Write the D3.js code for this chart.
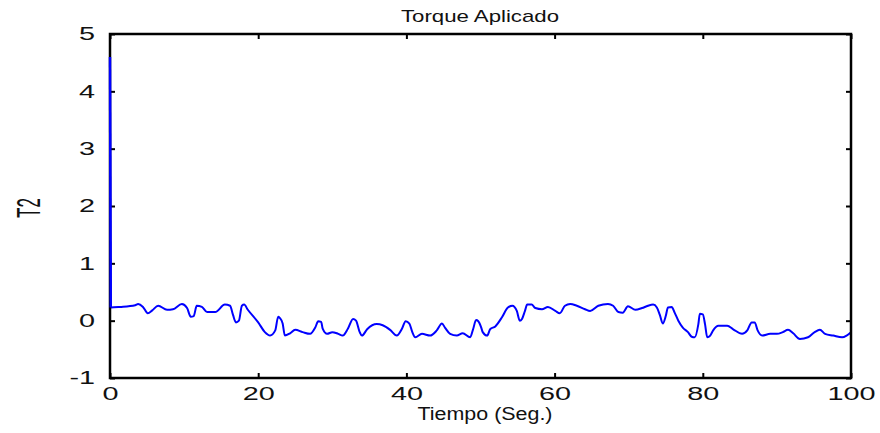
<!DOCTYPE html>
<html>
<head>
<meta charset="utf-8">
<script src="https://cdn.jsdelivr.net/npm/d3@7"></script>
<style>
  html, body { margin: 0; padding: 0; background: #fff; }
  svg { display: block; }
  text { font-family: "Liberation Sans", Arial, sans-serif; fill: #111; }
</style>
</head>
<body>
<svg id="chart" width="880" height="433"></svg>
<script>
// Applied torque T2 over time (seconds)
const time = [0, 0.1, 1.35, 3.4, 3.8, 4.45, 5.1, 5.7, 6.5, 7.7, 8.5, 9.7, 10.4, 10.9, 11.3, 11.7, 12.4, 13.1, 14.2, 15.5,
  16.2, 16.6, 17.0, 17.4, 17.8, 18.1, 18.6, 20.0, 20.9, 21.6, 22.3, 22.7, 22.9, 23.3, 23.6, 24.3, 25.0, 26.0, 27.0, 27.7,
  28.1, 28.5, 28.7, 29.3, 30.0, 30.8, 31.4, 32.1, 32.8, 33.2, 33.7, 34.0, 34.7, 36.0, 36.8, 37.8, 38.7, 39.4, 39.9, 40.4,
  40.8, 41.2, 42.1, 43.2, 44.1, 44.8, 45.2, 45.9, 46.8, 47.6, 48.6, 49.0, 49.4, 49.7, 50.1, 50.3, 50.9, 51.3, 52.0, 52.9,
  53.7, 54.3, 54.9, 55.3, 55.6, 56.0, 56.3, 56.9, 57.4, 58.3, 59.1, 60.1, 60.7, 61.4, 62.1, 63.0, 64.1, 64.8, 65.9, 67.2,
  67.9, 68.6, 69.2, 69.9, 70.9, 71.8, 72.6, 73.3, 73.8, 74.2, 74.6, 75.0, 75.3, 75.8, 76.2, 76.7, 77.3, 78.0, 78.5, 78.9,
  79.4, 79.6, 80.0, 80.3, 80.6, 81.0, 81.4, 82.1, 83.3, 84.1, 85.3, 86.0, 86.6, 87.0, 87.4, 88.0, 89.1, 90.0, 90.8, 91.5,
  92.2, 93.1, 94.2, 95.1, 95.8, 96.5, 97.6, 98.8, 99.4, 100];
const torque = [4.6, 0.23, 0.24, 0.27, 0.29, 0.24, 0.13, 0.18, 0.26, 0.19, 0.2, 0.29, 0.22, 0.07, 0.08, 0.26, 0.24, 0.15, 0.15, 0.28,
  0.26, 0.1, -0.03, 0.0, 0.26, 0.28, 0.19, -0.03, -0.2, -0.26, -0.17, 0.07, 0.05, -0.05, -0.26, -0.22, -0.16, -0.2, -0.23, -0.12,
  -0.01, -0.02, -0.14, -0.23, -0.2, -0.23, -0.26, -0.14, 0.03, 0.0, -0.2, -0.26, -0.15, -0.06, -0.08, -0.16, -0.26, -0.14, -0.01, -0.05,
  -0.2, -0.29, -0.23, -0.26, -0.17, -0.05, -0.12, -0.23, -0.26, -0.22, -0.29, -0.15, 0.01, -0.01, -0.12, -0.2, -0.26, -0.15, -0.1, 0.06,
  0.23, 0.26, 0.17, 0.0, 0.03, 0.17, 0.28, 0.28, 0.22, 0.2, 0.24, 0.17, 0.13, 0.26, 0.29, 0.26, 0.2, 0.17, 0.26, 0.29,
  0.26, 0.15, 0.14, 0.25, 0.19, 0.22, 0.26, 0.28, 0.23, 0.1, -0.05, 0.08, 0.23, 0.24, 0.14, 0.0, -0.12, -0.2, -0.28, -0.29,
  -0.06, 0.12, 0.11, -0.06, -0.29, -0.26, -0.17, -0.09, -0.09, -0.15, -0.23, -0.17, -0.03, -0.03, -0.17, -0.26, -0.23, -0.23, -0.2, -0.16,
  -0.22, -0.32, -0.29, -0.2, -0.16, -0.23, -0.26, -0.29, -0.26, -0.2];
const xTicks = [0, 20, 40, 60, 80, 100];
const yTicks = [-1, 0, 1, 2, 3, 4, 5];

const plot = { left: 110, right: 851, top: 34, bottom: 378 };
const svg = d3.select("#chart");

const x = d3.scaleLinear().domain([0, 100]).range([plot.left, plot.right]);
const y = d3.scaleLinear().domain([-1, 5]).range([plot.bottom, plot.top]);

const points = time.map((t, i) => [t, torque[i]]);
const line = d3.line().x(d => x(d[0])).y(d => y(d[1])).curve(d3.curveMonotoneX);

// data trace
svg.append("path")
  .datum(points)
  .attr("fill", "none")
  .attr("stroke", "#0000ff")
  .attr("stroke-width", 2)
  .attr("stroke-linejoin", "round")
  .attr("d", line);

// widen a text element horizontally around its anchor
function widen(sel, factor) {
  sel.each(function () {
    const w = this.getComputedTextLength();
    if (w > 0) {
      d3.select(this).attr("textLength", w * factor).attr("lengthAdjust", "spacingAndGlyphs");
    }
  });
}

// axes: ticks pointing inward on all four sides
const tickLen = 5;
const fmt = d3.format("d");
const bottomAxis = d3.axisBottom(x).tickValues(xTicks).tickSize(-tickLen).tickPadding(9).tickFormat(fmt);
const topAxis = d3.axisTop(x).tickValues(xTicks).tickSize(-tickLen).tickFormat("");
const leftAxis = d3.axisLeft(y).tickValues(yTicks).tickSize(-tickLen).tickPadding(15).tickFormat(d => d < 0 ? "-" + Math.abs(d) : d);
const rightAxis = d3.axisRight(y).tickValues(yTicks).tickSize(-tickLen).tickFormat("");

function style(g) {
  g.select(".domain").remove();
  g.selectAll(".tick line").attr("stroke", "#000").attr("stroke-width", 2);
  g.selectAll(".tick text").attr("font-size", 18).attr("fill", "#111")
    .attr("font-family", "'Liberation Sans', Arial, sans-serif")
    .call(widen, 1.6);
}
svg.append("g").attr("transform", `translate(0,${plot.bottom})`).call(bottomAxis).call(style);
svg.append("g").attr("transform", `translate(0,${plot.top})`).call(topAxis).call(style);
svg.append("g").attr("transform", `translate(${plot.left},0)`).call(leftAxis).call(style);
svg.append("g").attr("transform", `translate(${plot.right},0)`).call(rightAxis).call(style);

// frame
svg.append("rect")
  .attr("x", plot.left).attr("y", plot.top)
  .attr("width", plot.right - plot.left).attr("height", plot.bottom - plot.top)
  .attr("fill", "none").attr("stroke", "#000").attr("stroke-width", 2.5);

// redraw the initial spike over the left edge of the frame
svg.append("path")
  .datum(points.slice(0, 2))
  .attr("fill", "none")
  .attr("stroke", "#0000ff")
  .attr("stroke-width", 2.5)
  .attr("d", d3.line().x(d => x(d[0])).y(d => y(d[1])));

// labels
svg.append("text").attr("x", 480).attr("y", 22).attr("text-anchor", "middle")
  .attr("font-size", 17).text("Torque Aplicado")
  .attr("textLength", 158).attr("lengthAdjust", "spacingAndGlyphs");
svg.append("text").attr("x", 485).attr("y", 420).attr("text-anchor", "middle")
  .attr("font-size", 18).text("Tiempo (Seg.)")
  .attr("textLength", 135).attr("lengthAdjust", "spacingAndGlyphs");
svg.append("text")
  .attr("transform", "translate(40,208) rotate(-90) scale(1,2)")
  .attr("text-anchor", "middle")
  .attr("font-size", 17).text("T2");
</script>
</body>
</html>
